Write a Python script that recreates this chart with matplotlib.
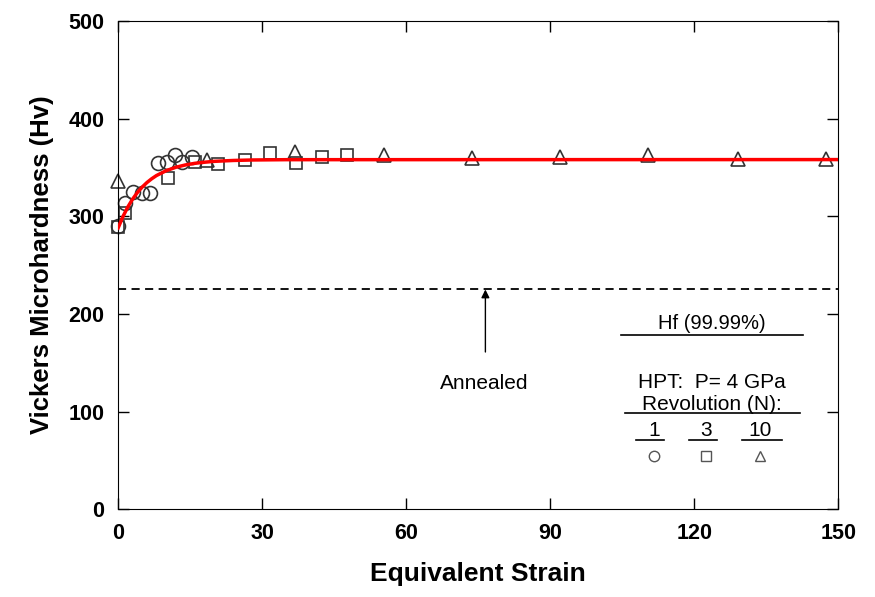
# Hf (99.99%) HPT hardness vs equivalent strain
import numpy as np
import matplotlib.pyplot as plt

plt.rcParams['font.family'] = ['Liberation Sans', 'DejaVu Sans']

# N = 1 (circles)
strain_n1 = [0.0, 1.5, 3.1, 4.9, 6.7, 8.4, 10.1, 11.9, 13.3, 15.3]
hv_n1 = [290, 314, 325, 324, 324, 355, 356, 363, 356, 361]

# N = 3 (squares)
strain_n3 = [0.0, 1.5, 10.4, 16.0, 20.8, 26.5, 31.7, 37.0, 42.4, 47.6]
hv_n3 = [289, 303, 339, 356, 353, 358, 365, 355, 361, 363]

# N = 10 (triangles)
strain_n10 = [0.0, 18.5, 36.9, 55.4, 73.7, 92.1, 110.4, 129.2, 147.5]
hv_n10 = [336, 358, 366, 363, 360, 361, 363, 359, 359]

# fitted curve
fit_x = [0, 1, 2, 3, 4, 5, 6, 7, 8, 10, 12, 14, 16, 18, 20, 24, 28, 35, 150]
fit_y = [288, 299.6, 309.3, 317.4, 324.2, 329.8, 334.5, 338.4, 341.7, 346.6,
         350.1, 352.5, 354.2, 355.3, 356.2, 357.1, 357.6, 357.9, 358]

annealed_hv = 225

fig = plt.figure(figsize=(8.75, 5.97), dpi=100)
ax = fig.add_axes([0.135, 0.147, 0.823, 0.818])

mk = dict(linestyle='none', markerfacecolor='none', markeredgecolor='#333333',
          markeredgewidth=1.2, clip_on=False)
ax.plot(strain_n1, hv_n1, marker='o', markersize=10, **mk)
ax.plot(strain_n3, hv_n3, marker='s', markersize=9, **mk)
ax.plot(strain_n10, hv_n10, marker='^', markersize=10, **mk)
ax.plot(fit_x, fit_y, color='red', lw=2.5, zorder=5)

ax.axhline(annealed_hv, color='black', ls=(0, (4.5, 3)), lw=1.3)
ax.annotate('', xy=(76.5, annealed_hv), xytext=(76.5, 161),
            arrowprops=dict(arrowstyle='-|>', color='black', lw=1,
                            mutation_scale=12, shrinkA=0, shrinkB=0))
ax.text(76.2, 129, 'Annealed', ha='center', va='center', fontsize=15)

# legend block drawn by hand
fs = 15
ax.text(123.7, 190, 'Hf (99.99%)', ha='center', va='center', fontsize=14.5)
ax.plot([104.8, 142.7], [178, 178], color='black', lw=1.2)
ax.text(123.7, 130, 'HPT:  P= 4 GPa', ha='center', va='center', fontsize=fs)
ax.text(123.7, 107, 'Revolution (N):', ha='center', va='center', fontsize=fs)
ax.plot([105.6, 142.0], [98.5, 98.5], color='black', lw=1.2)
for lab, xc, x0, x1, m in [('1', 111.7, 107.9, 113.8, 'o'),
                           ('3', 122.5, 119.0, 124.8, 's'),
                           ('10', 133.7, 130.0, 138.3, '^')]:
    ax.text(xc, 81, lab, ha='center', va='center', fontsize=fs)
    ax.plot([x0, x1], [71, 71], color='black', lw=1.2)
    ax.plot([xc], [55], marker=m, markersize=7.5, linestyle='none',
            markerfacecolor='none', markeredgecolor='#555555', markeredgewidth=1)

ax.set_xlim(0, 150)
ax.set_ylim(0, 500)
ax.set_xticks([0, 30, 60, 90, 120, 150])
ax.set_yticks([0, 100, 200, 300, 400, 500])
ax.tick_params(direction='in', length=8, width=1, top=True, right=True,
               labelsize=15.5, pad=10)
for t in ax.get_xticklabels() + ax.get_yticklabels():
    t.set_fontweight('bold')
ax.set_xlabel('Equivalent Strain', fontsize=19, fontweight='bold', labelpad=13)
ax.set_ylabel('Vickers Microhardness (Hv)', fontsize=18.5, fontweight='bold',
              labelpad=10)

plt.savefig('out.png', dpi=100)
